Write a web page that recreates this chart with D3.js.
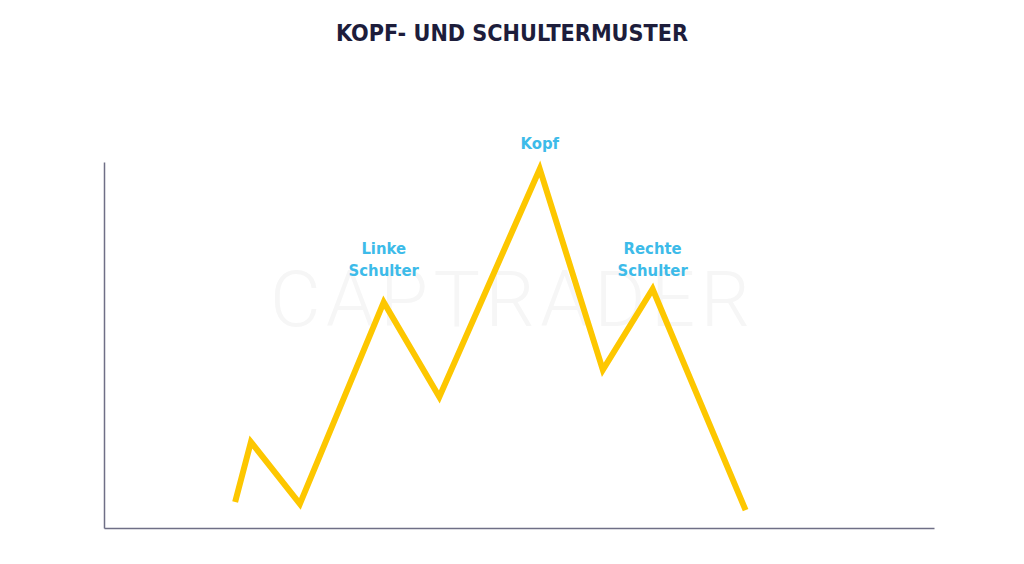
<!DOCTYPE html>
<html><head><meta charset="utf-8">
<script src="https://cdn.jsdelivr.net/npm/d3@7"></script>
<style>body{margin:0;background:#fff}svg{display:block}</style>
</head><body>
<script>
const title = "KOPF- UND SCHULTERMUSTER";
const watermark = "CAPTRADER";
const xValues = [15.8, 17.7, 23.6, 33.7, 40.4, 52.5, 60.1, 66.1, 77.3];
const yValues = [7.1, 23.5, 6.6, 61.7, 35.8, 98.1, 43.2, 65.3, 4.9];
const labelIndex = [3, 5, 7];
const labelLines = [["Linke", "Schulter"], ["Kopf"], ["Rechte", "Schulter"]];
const labelBaseline = [68.9, 103.6, 68.9];

const W = 1024, H = 564;
const svg = d3.select("body").append("svg").attr("width", W).attr("height", H);
const x = d3.scaleLinear().domain([0, 100]).range([104, 934]);
const y = d3.scaleLinear().domain([0, 100]).range([528, 162]);

svg.append("text").attr("x", 512).attr("y", 41).attr("text-anchor", "middle")
  .attr("font-family", "DejaVu Sans Condensed, DejaVu Sans").attr("font-weight", "bold")
  .attr("font-size", 23).attr("fill", "#1d1d3b").attr("textLength", 352).attr("lengthAdjust", "spacingAndGlyphs")
  .text(title);

svg.append("text").attr("x", 510).attr("y", 326).attr("text-anchor", "middle")
  .attr("font-family", "Roboto, DejaVu Sans").attr("font-weight", 300).attr("font-size", 78).attr("fill", "#f6f6f6")
  .attr("textLength", 480).attr("lengthAdjust", "spacing")
  .text(watermark);

const axisColor = "#6f6f86";
svg.append("g").attr("transform", `translate(${x(0)},0)`)
  .call(d3.axisLeft(y).tickValues([]).tickSize(0))
  .select(".domain").attr("stroke", axisColor).attr("stroke-width", 1.5);
svg.append("g").attr("transform", `translate(0,${y(0)})`)
  .call(d3.axisBottom(x).tickValues([]).tickSize(0))
  .select(".domain").attr("stroke", axisColor).attr("stroke-width", 1.5);

const pts = xValues.map((v, i) => [v, yValues[i]]);
svg.append("path").datum(pts)
  .attr("d", d3.line().x(d => x(d[0])).y(d => y(d[1])))
  .attr("fill", "none").attr("stroke", "#fdc700").attr("stroke-width", 6)
  .attr("stroke-linejoin", "miter").attr("stroke-miterlimit", 10);

labelIndex.forEach((idx, k) => {
  const lines = labelLines[k];
  const cx = x(xValues[idx]);
  const lastY = y(labelBaseline[k]);
  const t = svg.append("text").attr("text-anchor", "middle")
    .attr("font-family", "DejaVu Sans Condensed, DejaVu Sans").attr("font-weight", "bold")
    .attr("font-size", 16.5).attr("fill", "#3dbbe9");
  lines.forEach((ln, j) => {
    t.append("tspan").attr("x", cx).attr("y", lastY - (lines.length - 1 - j) * 22).text(ln);
  });
});
</script>
</body></html>
